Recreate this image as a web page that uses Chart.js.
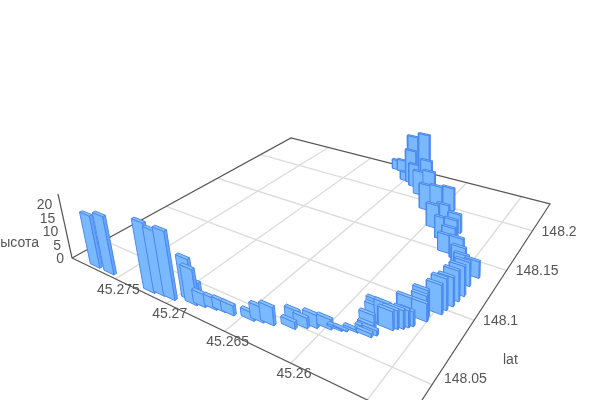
<!DOCTYPE html>
<html>
<head>
<meta charset="utf-8">
<style>
    html, body { margin: 0; padding: 0; background: #fff; overflow: hidden; }
</style>
<script src="https://cdn.jsdelivr.net/npm/chart.js@4"></script>
</head>
<body>
<canvas id="bar3d" width="600" height="400"></canvas>
<script>
// values
const lon = [45.2775, 45.2760, 45.2720, 45.2712, 45.2703, 45.2692, 45.2687, 45.2685, 45.2681, 45.2673,
    45.2667, 45.2660, 45.2646, 45.2640, 45.2633, 45.2621, 45.2620, 45.2614, 45.2609, 45.2601,
    45.2595, 45.2592, 45.2586, 45.2579, 45.2577, 45.2575, 45.2578, 45.2579, 45.2578, 45.2578,
    45.2572, 45.2569, 45.2567, 45.2564, 45.2562, 45.2560, 45.2563, 45.2555, 45.2556, 45.2556,
    45.2550, 45.2549, 45.2547, 45.2546, 45.2545, 45.2546, 45.2544, 45.2552, 45.2557, 45.2561,
    45.2571, 45.2574, 45.2577, 45.2589, 45.2595, 45.2602, 45.2612, 45.2624, 45.2627, 45.2644,
    45.2643, 45.2660, 45.2666, 45.2649, 45.2637, 45.2627, 45.2611, 45.2594, 45.2581, 45.2572];
const lat = [148.0306, 148.0306, 148.0311, 148.0322, 148.0326, 148.0371, 148.0356, 148.0369, 148.0368, 148.0383,
    148.0393, 148.0397, 148.0419, 148.0434, 148.0445, 148.0522, 148.0479, 148.0516, 148.0542, 148.0570,
    148.0588, 148.0599, 148.0620, 148.0642, 148.0626, 148.0651, 148.0654, 148.0683, 148.0728, 148.0742,
    148.0737, 148.0726, 148.0746, 148.0762, 148.0785, 148.0804, 148.0835, 148.0872, 148.0889, 148.0905,
    148.0961, 148.1004, 148.1050, 148.1104, 148.1160, 148.1256, 148.1354, 148.1357, 148.1414, 148.1461,
    148.1536, 148.1624, 148.1740, 148.1782, 148.1978, 148.1911, 148.1973, 148.2135, 148.2154, 148.2254,
    148.2203, 148.2335, 148.2345, 148.2212, 148.2158, 148.2067, 148.1897, 148.1715, 148.1612, 148.1494];
const height = [19.0, 20.9, 24.2, 22.4, 23.5, 14.5, 12.4, 7.6, 4.5, 3.8,
    3.6, 3.4, 2.7, 5.1, 6.1, 4.1, 2.4, 3.5, 4.4, 3.4,
    0.7, 0.3, 0.8, 1.7, 1.3, 1.7, 2.7, 4.7, 6.1, 7.4,
    7.7, 6.3, 6.2, 6.2, 5.7, 5.0, 7.8, 6.1, 7.8, 9.1,
    10.0, 10.8, 10.0, 10.6, 10.5, 8.6, 6.0, 6.6, 6.9, 8.3,
    8.5, 8.6, 7.2, 8.2, 9.3, 10.7, 14.0, 13.6, 24.0, 19.4,
    14.4, 5.2, 4.3, 3.7, 9.9, 10.1, 10.5, 9.3, 8.7, 6.9];

const lonTicks = [45.275, 45.27, 45.265, 45.26, 45.255];
const latTicks = [148.05, 148.1, 148.15, 148.2];
const heightTicks = [0, 5, 10, 15, 20];
const lonLabels = ['45.275', '45.27', '45.265', '45.26'];
const latLabels = ['148.05', '148.1', '148.15', '148.2'];

// axis ranges of the box
const lonMax = 45.27976, lonSpan = 0.0272;
const latMin = 148.0277, latSpan = 0.2128;
const heightMax = 23.7;
const barLon = 0.00105, barLat = 0.0018;

// camera: 3x4 projection, fitted to the corners of the floor
const cam = [
    [213.42, 354.5, -0.6807, 72],
    [35.09, -55.74, -3.0012, 258],
    [-0.30216, 0.46565, -0.001547, 1]
];

function project(lo, la, h) {
    let u = (lonMax - lo) / lonSpan;
    let v = (la - latMin) / latSpan;
    let w = cam[2][0] * u + cam[2][1] * v + cam[2][2] * h + cam[2][3];
    return {
        x: (cam[0][0] * u + cam[0][1] * v + cam[0][2] * h + cam[0][3]) / w,
        y: (cam[1][0] * u + cam[1][1] * v + cam[1][2] * h + cam[1][3]) / w
    };
}

const datasets = [];

function addLine(points, color, width) {
    datasets.push({
        data: points,
        showLine: true,
        fill: false,
        borderColor: color,
        borderWidth: width,
        pointRadius: 0,
        tension: 0
    });
}

function addFace(points, fillColor) {
    datasets.push({
        data: points.concat([points[0]]),
        showLine: true,
        fill: 'shape',
        backgroundColor: fillColor,
        borderColor: '#4a88ee',
        borderWidth: 1,
        borderJoinStyle: 'round',
        pointRadius: 0,
        tension: 0
    });
}

const lonA = lonMax, lonB = lonMax - lonSpan;
const latA = latMin, latB = latMin + latSpan;

// floor grid
lonTicks.forEach(t => addLine([project(t, latA, 0), project(t, latB, 0)], '#dcdcdc', 1.4));
latTicks.forEach(t => addLine([project(lonA, t, 0), project(lonB, t, 0)], '#dcdcdc', 1.4));

// box edges
addLine([project(lonA, latA, 0), project(lonA, latB, 0), project(lonB, latB, 0), project(lonB, latA, 0), project(lonA, latA, 0)], '#555555', 1.2);
addLine([project(lonA, latA, 0), project(lonA, latA, heightMax)], '#555555', 1.2);

// bars, far ones first
const order = lon.map((v, i) => i);
order.sort((a, b) => project(lon[a], lat[a], 0).y - project(lon[b], lat[b], 0).y);

order.forEach(i => {
    let west = lon[i] + barLon / 2, east = lon[i] - barLon / 2;
    let south = lat[i] - barLat / 2, north = lat[i] + barLat / 2;
    let h = height[i];
    addFace([project(east, south, 0), project(east, north, 0), project(east, north, h), project(east, south, h)], '#66a6fa');
    addFace([project(west, south, 0), project(east, south, 0), project(east, south, h), project(west, south, h)], '#7ab9ff');
    addFace([project(west, south, h), project(east, south, h), project(east, north, h), project(west, north, h)], '#8ac2ff');
});

// lowest order is painted last
datasets.forEach((d, i) => { d.order = datasets.length - i; });

const axisText = {
    id: 'axisText',
    afterDraw(chart) {
        const ctx = chart.ctx;
        const sx = chart.scales.x, sy = chart.scales.y;
        function put(text, px, py, align) {
            ctx.textAlign = align;
            ctx.fillText(text, sx.getPixelForValue(px), sy.getPixelForValue(py));
        }
        ctx.save();
        ctx.font = '14px "Liberation Sans", Arial, sans-serif';
        ctx.fillStyle = '#555555';
        ctx.textBaseline = 'middle';

        lonLabels.forEach((label, i) => {
            let p = project(lonTicks[i], latA, 0);
            put(label, p.x + 3, p.y + 11, 'center');
        });
        latLabels.forEach((label, i) => {
            let p = project(lonB, latTicks[i], 0);
            // labels lift a bit near the front corner
            let near = Math.max(0, p.y - 330);
            put(label, p.x + 9 + near * 0.055, p.y + 1 - near * 0.12, 'left');
        });
        heightTicks.forEach(t => {
            let p = project(lonA, latA, t);
            put(String(t), p.x - 8, p.y + 1, 'right');
        });

        put('lat', 503, 360, 'left');
        put('высота', 39, 243, 'right');
        ctx.restore();
    }
};

new Chart(document.getElementById('bar3d'), {
    type: 'scatter',
    data: { datasets: datasets },
    options: {
        responsive: false,
        animation: false,
        events: [],
        layout: { padding: 0 },
        plugins: { legend: { display: false }, tooltip: { enabled: false } },
        scales: {
            x: { type: 'linear', min: 0, max: 600, display: false },
            y: { type: 'linear', min: 0, max: 400, reverse: true, display: false }
        }
    },
    plugins: [axisText]
});
</script>
</body>
</html>
